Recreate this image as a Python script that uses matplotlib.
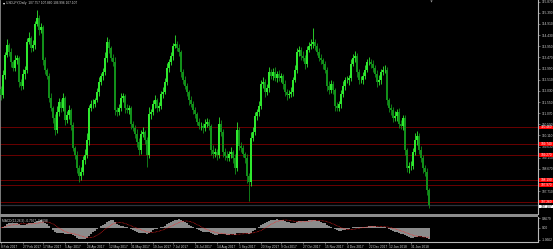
import numpy as np
import pandas as pd
import matplotlib
matplotlib.use("Agg")
import matplotlib.pyplot as plt
from matplotlib.patches import Rectangle
from matplotlib.transforms import blended_transform_factory

# ---------------- data ----------------
symbol_title = "USDJPY,Daily  107.757 107.860 106.996 107.107"
macd_title = "MACD(12,26,9) -0.7967 -0.6698"

first_open = 112.10
closes = [
    111.85, 112.71, 113.58, 114.01, 113.70, 113.27, 113.02, 113.36, 113.45, 112.41,
    112.24, 112.76, 112.93, 114.14, 114.31, 113.88, 114.01, 114.91, 115.17, 114.65,
    114.78, 113.36, 112.93, 112.67, 111.72, 111.29, 110.86, 110.35, 111.12, 111.55,
    111.29, 111.72, 110.78, 110.99, 111.21, 110.56, 109.57, 109.27, 108.71, 108.37,
    108.54, 109.06, 109.27, 109.92, 111.29, 111.47, 111.47, 111.64, 111.98, 112.41,
    112.67, 112.84, 113.45, 114.14, 113.88, 113.45, 113.27, 111.21, 111.12, 111.29,
    111.72, 111.81, 111.29, 111.21, 111.29, 110.61, 110.43, 110.17, 109.83, 109.49,
    110.17, 110.26, 109.92, 109.27, 111.04, 111.12, 111.47, 111.64, 111.29, 111.38,
    111.90, 111.98, 112.41, 113.02, 113.27, 113.53, 113.96, 114.05, 113.88, 113.70,
    112.84, 112.50, 112.24, 111.98, 111.64, 111.47, 111.21, 111.04, 110.69, 110.52,
    110.52, 110.43, 110.61, 110.69, 110.52, 109.49, 109.31, 109.40, 109.27, 110.61,
    110.26, 109.40, 109.23, 109.14, 109.31, 109.40, 109.14, 108.71, 110.35, 109.66,
    109.57, 109.31, 109.14, 108.37, 108.11, 110.00, 110.26, 110.95, 111.12, 111.38,
    112.33, 112.41, 111.98, 112.16, 112.84, 112.67, 112.84, 112.59, 112.76, 112.59,
    112.67, 112.33, 111.98, 111.85, 111.90, 111.98, 112.50, 112.93, 113.70, 113.79,
    113.53, 113.45, 113.19, 113.79, 113.96, 114.05, 114.14, 113.96, 113.70, 113.45,
    113.36, 113.19, 112.93, 112.24, 112.07, 112.33, 112.07, 111.38, 111.29, 111.47,
    111.90, 112.24, 112.50, 112.50, 112.59, 113.19, 113.45, 113.53, 112.84, 112.50,
    112.50, 112.67, 112.93, 113.27, 113.27, 113.19, 113.02, 112.76, 112.41, 112.50,
    112.84, 112.93, 112.93, 111.64, 111.29, 111.21, 110.86, 110.95, 111.12, 110.61,
    110.52, 110.86, 109.49, 108.71, 108.80, 108.80, 109.40, 109.92, 110.09, 109.49,
    109.14, 108.71, 108.54, 107.757, 107.107,
]
upper_wick = [
    0.15, 0.20, 0.12, 0.25, 0.10, 0.18, 0.08, 0.22, 0.14, 0.10,
    0.12, 0.20, 0.16, 0.18, 0.24, 0.10, 0.20, 0.15, 0.34, 0.12,
    0.18, 0.10, 0.14, 0.08, 0.12, 0.20, 0.10, 0.16, 0.25, 0.18,
    0.12, 0.22, 0.10, 0.16, 0.20, 0.08, 0.14, 0.10, 0.18, 0.12,
    0.20, 0.15, 0.25, 0.30, 0.12, 0.18, 0.22, 0.10, 0.16, 0.20,
    0.14, 0.18, 0.25, 0.21, 0.12, 0.10, 0.16, 0.20, 0.14, 0.18,
    0.22, 0.12, 0.10, 0.18, 0.15, 0.10, 0.14, 0.12, 0.20, 0.16,
    0.18, 0.22, 0.10, 0.14, 0.30, 0.12, 0.16, 0.20, 0.10, 0.18,
    0.14, 0.22, 0.16, 0.20, 0.12, 0.18, 0.15, 0.39, 0.12, 0.16,
    0.10, 0.14, 0.18, 0.12, 0.10, 0.16, 0.12, 0.14, 0.10, 0.18,
    0.16, 0.12, 0.22, 0.18, 0.14, 0.10, 0.20, 0.16, 0.12, 0.30,
    0.18, 0.12, 0.16, 0.20, 0.14, 0.22, 0.10, 0.16, 0.35, 0.12,
    0.18, 0.14, 0.10, 0.16, 0.12, 0.25, 0.20, 0.18, 0.14, 0.22,
    0.16, 0.20, 0.12, 0.18, 0.24, 0.14, 0.16, 0.20, 0.12, 0.18,
    0.14, 0.10, 0.16, 0.12, 0.18, 0.20, 0.14, 0.22, 0.18, 0.16,
    0.12, 0.20, 0.14, 0.18, 0.16, 0.22, 0.60, 0.14, 0.12, 0.18,
    0.16, 0.10, 0.14, 0.12, 0.20, 0.16, 0.12, 0.10, 0.18, 0.14,
    0.16, 0.20, 0.12, 0.18, 0.14, 0.22, 0.16, 0.20, 0.12, 0.14,
    0.18, 0.16, 0.20, 0.14, 0.22, 0.12, 0.18, 0.14, 0.16, 0.20,
    0.14, 0.18, 0.22, 0.12, 0.10, 0.16, 0.14, 0.20, 0.12, 0.18,
    0.16, 0.14, 0.12, 0.10, 0.18, 0.22, 0.16, 0.30, 0.20, 0.14,
    0.16, 0.12, 0.14, 0.18, 0.103,
]
lower_wick = [
    0.20, 0.12, 0.18, 0.10, 0.16, 0.22, 0.14, 0.12, 0.18, 0.20,
    0.16, 0.12, 0.20, 0.14, 0.10, 0.18, 0.12, 0.16, 0.10, 0.22,
    0.14, 0.20, 0.16, 0.12, 0.18, 0.14, 0.22, 0.20, 0.12, 0.16,
    0.18, 0.14, 0.22, 0.12, 0.16, 0.20, 0.14, 0.18, 0.22, 0.26,
    0.16, 0.12, 0.18, 0.14, 0.20, 0.12, 0.16, 0.14, 0.10, 0.18,
    0.12, 0.16, 0.14, 0.18, 0.20, 0.12, 0.16, 0.22, 0.18, 0.14,
    0.12, 0.16, 0.20, 0.14, 0.18, 0.22, 0.12, 0.16, 0.20, 0.24,
    0.16, 0.12, 0.18, 0.52, 0.14, 0.20, 0.12, 0.16, 0.18, 0.14,
    0.12, 0.16, 0.10, 0.14, 0.18, 0.12, 0.16, 0.10, 0.14, 0.18,
    0.22, 0.16, 0.14, 0.18, 0.20, 0.12, 0.16, 0.18, 0.14, 0.12,
    0.16, 0.20, 0.14, 0.12, 0.18, 0.22, 0.16, 0.14, 0.20, 0.12,
    0.16, 0.22, 0.18, 0.14, 0.12, 0.16, 0.20, 0.24, 0.14, 0.18,
    0.16, 0.12, 0.20, 0.30, 0.83, 0.16, 0.14, 0.12, 0.18, 0.16,
    0.12, 0.18, 0.20, 0.14, 0.16, 0.12, 0.18, 0.14, 0.16, 0.12,
    0.18, 0.22, 0.16, 0.20, 0.14, 0.12, 0.16, 0.10, 0.14, 0.18,
    0.16, 0.12, 0.20, 0.14, 0.10, 0.12, 0.16, 0.18, 0.14, 0.12,
    0.16, 0.20, 0.14, 0.22, 0.18, 0.12, 0.16, 0.20, 0.14, 0.12,
    0.18, 0.14, 0.16, 0.12, 0.20, 0.14, 0.10, 0.16, 0.22, 0.18,
    0.12, 0.16, 0.14, 0.10, 0.12, 0.18, 0.16, 0.14, 0.20, 0.12,
    0.16, 0.14, 0.12, 0.20, 0.18, 0.22, 0.16, 0.14, 0.20, 0.18,
    0.14, 0.16, 0.22, 0.18, 0.20, 0.16, 0.14, 0.12, 0.20, 0.18,
    0.16, 0.22, 0.18, 0.20, 0.111,
]

level_prices = [110.460, 109.740, 109.270, 108.190, 107.970, 107.260]
current_price = 107.107
price_ticks = [115.870, 115.390, 114.910, 114.430, 113.950, 113.470, 112.990,
               112.510, 112.030, 111.550, 111.070, 110.590, 110.110, 109.630,
               109.150, 108.670, 107.710]
date_labels = ["8 Feb 2017", "27 Feb 2017", "17 Mar 2017", "5 Apr 2017",
               "24 Apr 2017", "12 May 2017", "31 May 2017", "19 Jun 2017",
               "7 Jul 2017", "26 Jul 2017", "14 Aug 2017", "1 Sep 2017",
               "20 Sep 2017", "9 Oct 2017", "27 Oct 2017", "15 Nov 2017",
               "4 Dec 2017", "22 Dec 2017", "12 Jan 2018", "31 Jan 2018"]
date_bars = [0, 11, 21, 32, 43, 54, 65, 76, 86, 97, 108, 119, 130, 140, 151,
             162, 173, 184, 194, 205]
macd_ticks = [0.8679, 0.0, -1.0662]
macd_tick_labels = ["0.8679", "0.00", "-1.0662"]

# ---------------- figure ----------------
W, H = 553, 249
FONT = "Liberation Sans"
FS = 2.3
TXT = "#d0d0d0"
AXC = "#b8b8b8"

fig = plt.figure(figsize=(W / 100, H / 100), dpi=100, facecolor="black")
ax = fig.add_axes([0, 1 - 214 / H, 538 / W, 214 / H], facecolor="black")
axm = fig.add_axes([0, 1 - 241.5 / H, 538 / W, 24.5 / H], facecolor="black")

c = np.array(closes)
o = np.r_[first_open, c[:-1]]
hi = np.maximum(o, c) + np.array(upper_wick)
lo = np.minimum(o, c) - np.array(lower_wick)
idx = np.arange(len(c))
up = c >= o

up_col, dn_col = "#2ee82e", "#12901a"
cols = np.where(up, up_col, dn_col)
ax.vlines(idx, lo, hi, colors=cols, lw=0.6, zorder=3)
ax.bar(idx, np.abs(c - o), bottom=np.minimum(o, c), width=0.75, color=cols,
       linewidth=0, zorder=4)

for p in level_prices:
    ax.axhline(p, color="#7c0000", lw=0.6, zorder=2)
ax.axhline(current_price, color="#2c343c", lw=0.9, zorder=1)

ax.set_xlim(-0.5, 268.5)
ax.set_ylim(115.943 - 0.04305 * 214, 115.943)

ax.yaxis.tick_right()
ax.set_yticks(price_ticks)
ax.set_yticklabels([f"{v:.3f}" for v in price_ticks], fontsize=FS,
                   color=TXT, family=FONT)
ax.tick_params(axis="y", length=1.5, width=0.4, color=AXC, pad=1)
ax.set_xticks([])
for s in ["top", "bottom"]:
    ax.spines[s].set_visible(False)
ax.spines["right"].set_color(AXC)
ax.spines["right"].set_linewidth(0.8)
ax.spines["left"].set_color("#909090")
ax.spines["left"].set_linewidth(0.6)

# price boxes
tr = blended_transform_factory(ax.transAxes, ax.transData)
bw = 15 / 538
bh = 3.5 * 0.04305
for p in level_prices:
    ax.add_patch(Rectangle((1.001, p - bh / 2), bw, bh, transform=tr,
                           facecolor="#ff0000", edgecolor="none",
                           clip_on=False, zorder=10))
    ax.text(1.001 + bw / 2, p, f"{p:.3f}", transform=tr, ha="center",
            va="center", fontsize=FS, color="white", family=FONT,
            clip_on=False, zorder=11)
ax.add_patch(Rectangle((1.001, current_price - 0.06 - bh / 2), bw, bh,
                       transform=tr, facecolor="white", edgecolor="none",
                       clip_on=False, zorder=10))
ax.text(1.001 + bw / 2, current_price - 0.06, f"{current_price:.3f}",
        transform=tr, ha="center", va="center", fontsize=FS, color="black",
        family=FONT, clip_on=False, zorder=11)

fig.text(2.5 / W, 1 - 3 / H, "\u25BE", fontsize=3, color="white",
         va="center", ha="left")
fig.text(6 / W, 1 - 3 / H, symbol_title, fontsize=FS, color=TXT,
         va="center", ha="left", family=FONT)
ax.plot([215], [115.943 - 0.04305 * 1.2], marker="v", ms=1.6, color="#9a9a9a",
        mec="none", clip_on=False, zorder=12)

# ---------------- MACD ----------------
s = pd.Series(c)
macd = s.ewm(span=12, adjust=False).mean() - s.ewm(span=26, adjust=False).mean()
signal = macd.rolling(9, min_periods=1).mean()
axm.bar(idx, macd, width=0.9, color="#8c8c8c", linewidth=0, zorder=2)
axm.plot(idx, signal, color="#ff2020", lw=0.5, ls=(0, (1, 1)), zorder=3)
axm.set_xlim(-0.5, 268.5)
axm.set_ylim(-1.246, 0.958)
axm.yaxis.tick_right()
axm.set_yticks(macd_ticks)
axm.set_yticklabels(macd_tick_labels, fontsize=FS, color=TXT, family=FONT)
axm.tick_params(axis="y", length=1.5, width=0.4, color=AXC, pad=1)
axm.set_xticks(date_bars)
axm.set_xticklabels(date_labels, fontsize=FS, color=TXT, family=FONT,
                    ha="left")
axm.tick_params(axis="x", length=1.5, width=0.4, color=AXC, pad=1)
axm.spines["top"].set_visible(False)
for sname in ["right", "bottom"]:
    axm.spines[sname].set_color(AXC)
    axm.spines[sname].set_linewidth(0.8)
axm.spines["left"].set_color("#909090")
axm.spines["left"].set_linewidth(0.6)
axm.text(2 / 538, 0.93, macd_title, transform=axm.transAxes, fontsize=FS,
         color=TXT, family=FONT, va="top", ha="left")

# window separator
fig.add_artist(Rectangle((0, 1 - 216.5 / H), 538 / W, 2.3 / H,
                         transform=fig.transFigure, facecolor="#8c8c8c",
                         edgecolor="none"))

fig.savefig("out.png", dpi=100, facecolor="black")
